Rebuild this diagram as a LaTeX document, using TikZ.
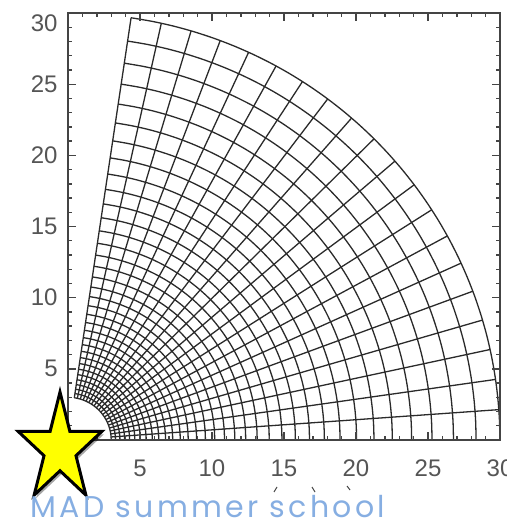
\documentclass[tikz,border=0pt]{standalone}
\usepackage{fontspec}
\setmainfont{Liberation Sans}
\newfontfamily\chalkfont[LetterSpace=11]{Poppins}
\usetikzlibrary{shadows}

\definecolor{axisgray}{HTML}{444444}
\definecolor{labelgray}{HTML}{555555}
\definecolor{gridgray}{HTML}{2A2A2A}
\definecolor{madblue}{HTML}{86AEE2}
\definecolor{staryellow}{HTML}{FFFF00}

\begin{document}
\begin{tikzpicture}[
	x=0.5pt, y=0.5pt,
	frame/.style={
		draw=axisgray,
		line width=0.8pt
		},
	tickmark/.style={
		draw=axisgray,
		line width=0.7pt
	},
	gridline/.style={
		draw=gridgray,
		line width=0.65pt
	},
	ticklabel/.style={
		text=labelgray,
		inner sep=0pt,
		font=\fontsize{12}{14}\selectfont
	},
	starshape/.style={
		fill=staryellow,
		draw=black,
		line width=1.5pt,
		line join=miter,
		drop shadow={shadow xshift=1pt, shadow yshift=-1.5pt, opacity=0.35, fill=black}
	},
	banner/.style={
		text=madblue,
		inner sep=0pt,
		anchor=base west,
		font=\chalkfont\fontsize{15}{17}\selectfont
	}
]
\useasboundingbox (0,0) rectangle (507,525);

% Plot area (data units)
\begin{scope}[shift={(34pt,42.5pt)}, x=7.2pt, y=7.115pt]
	% Radial lines
	\foreach \j in {0,...,20} {
		\draw[gridline] ({\j*4.08}:3) -- ({\j*4.08}:30);
	}
	% Arcs
	\foreach \i in {0,...,34} {
		\pgfmathsetmacro{\r}{5.5*exp(0.05225*\i)-2.5}
		\draw[gridline] plot[domain=0:81.6, samples=30, smooth] (\x:\r);
	}
	% Frame and ticks
	\draw[frame] (0,0) rectangle (30,30);
	\foreach \t in {0,...,30} {
		\pgfmathsetmacro{\len}{ifthenelse(mod(\t,5)==0,4,2)}
		\draw[tickmark] (\t,0) -- ++(0pt,\len pt);
		\draw[tickmark] (\t,30) -- ++(0pt,-\len pt);
		\draw[tickmark] (0,\t) -- ++(\len pt,0pt);
		\draw[tickmark] (30,\t) -- ++(-\len pt,0pt);
	}
	% Tick labels
	\foreach \t in {0,5,...,25} {
		\node[ticklabel, anchor=east, xshift=-5pt] (ylab\t) at (0,\t) {\t};
	}
	\node[ticklabel, anchor=east, xshift=-5pt, yshift=-5.25pt] (ylab30) at (0,30) {30};
	\foreach \t in {0,5,...,30} {
		\node[ticklabel, yshift=-14pt] (xlab\t) at (\t,0) {\t};
	}
\end{scope}

% Marks above the banner
\draw[tickmark, line width=0.5pt] (274,33) -- (277,38);
\draw[tickmark, line width=0.5pt] (312,38) -- (315,33);
\draw[tickmark, line width=0.5pt] (347,39) -- (350,35);

% Star
\begin{scope}[shift={(30pt,38pt)}, x=22pt, y=28.5pt]
	\draw[starshape] (90:1) -- (126:0.382) -- (162:1) -- (198:0.382) -- (234:1)
		-- (270:0.382) -- (306:1) -- (342:0.382) -- (18:1) -- (54:0.382) -- cycle;
\end{scope}

% Banner
\node[banner] (title) at (30,7) {MAD summer school};

\end{tikzpicture}
\end{document}
